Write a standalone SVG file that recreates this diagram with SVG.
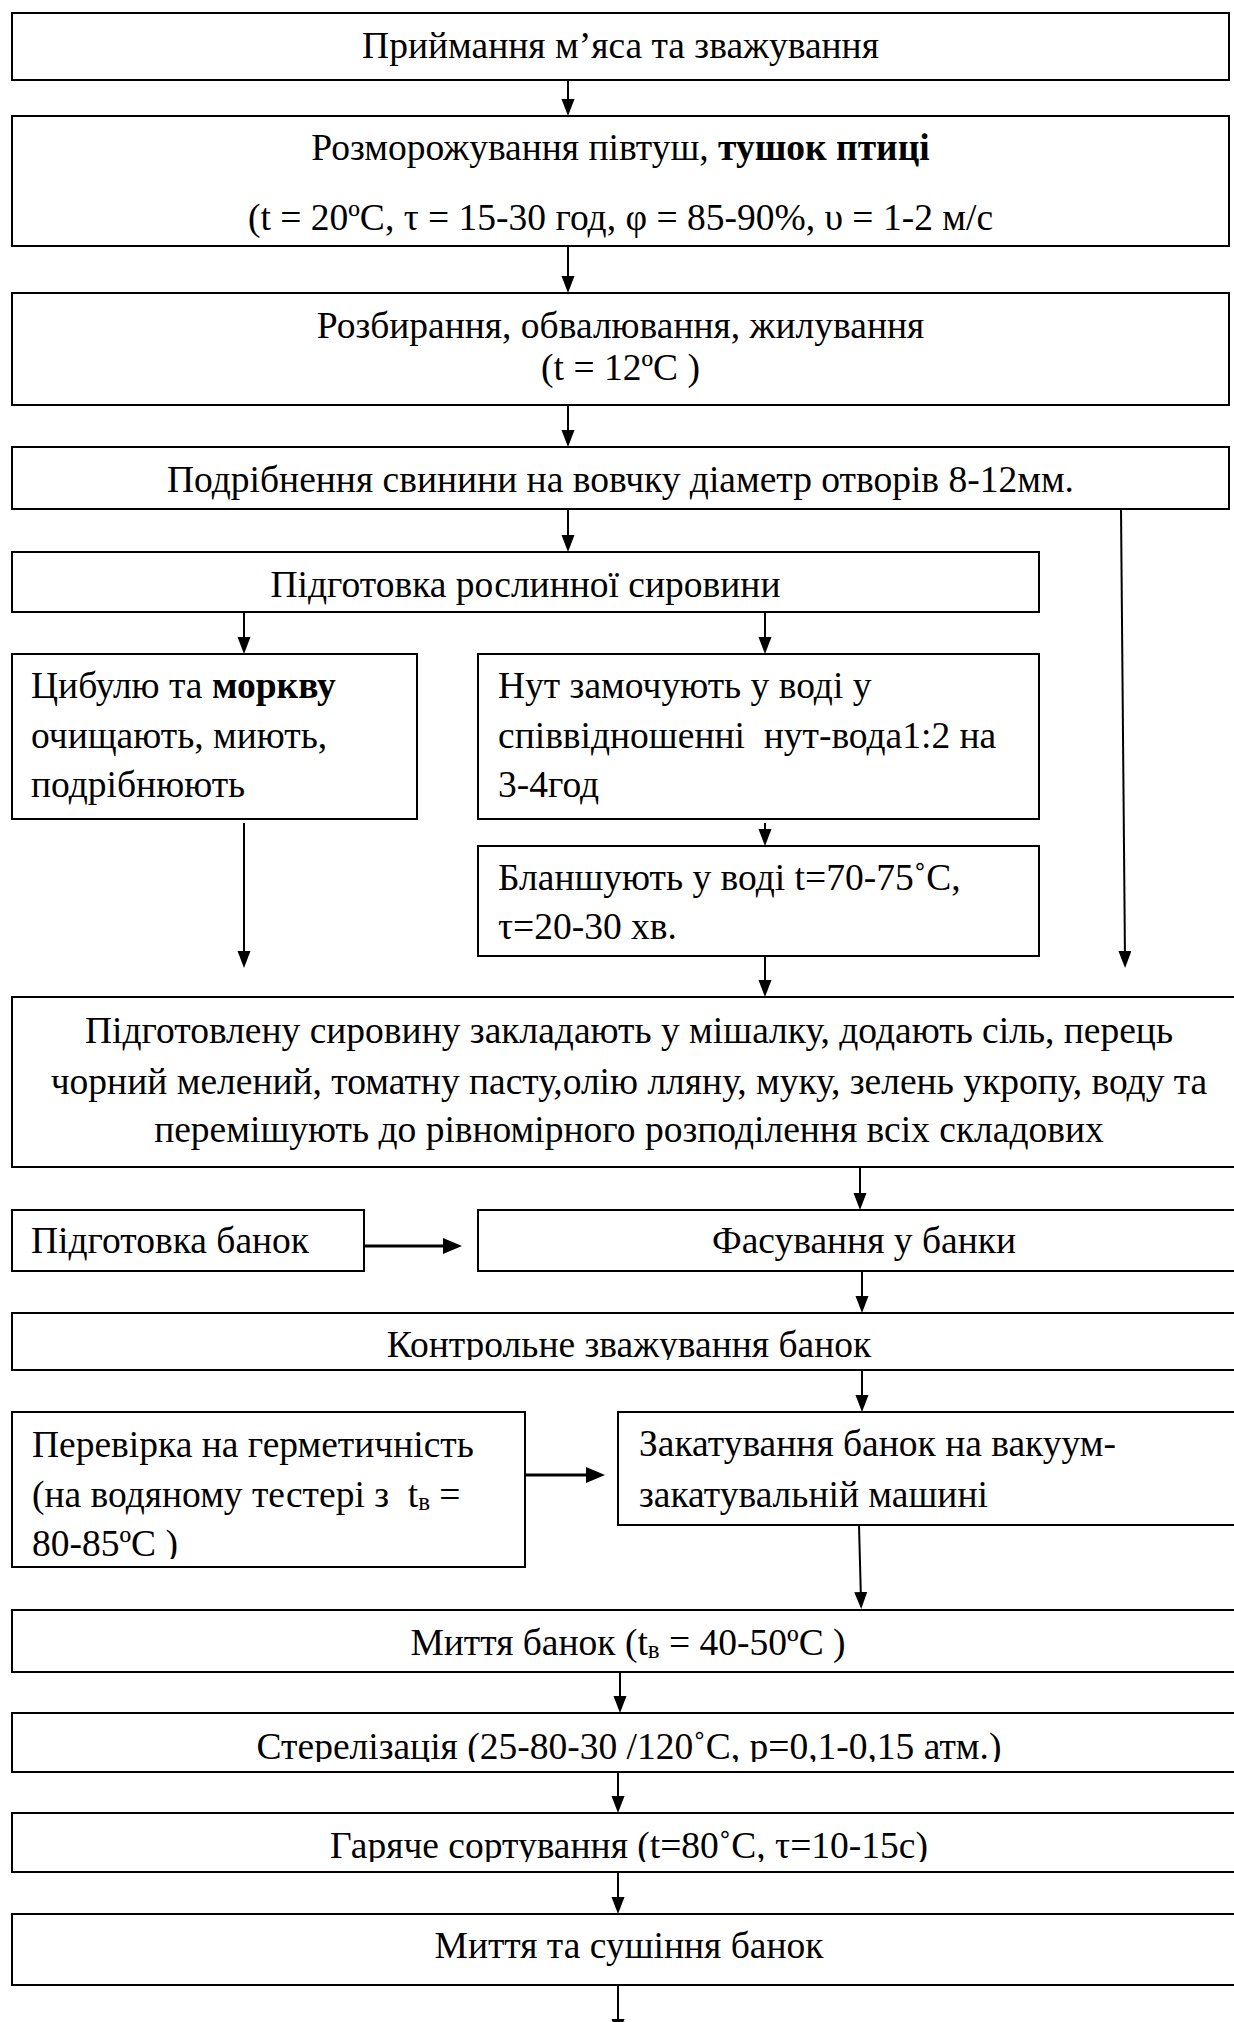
<svg xmlns="http://www.w3.org/2000/svg" width="1234" height="2022" viewBox="0 0 1234 2022">
<style>
.box{fill:#fff;stroke:#000;stroke-width:2}
.t{font-family:"Liberation Serif","Times New Roman",serif;font-size:37.5px;fill:#000}
.c{text-anchor:middle}
.b{font-weight:bold}
.con line{stroke:#000;stroke-width:2;marker-end:url(#ah)}
.con line.h{stroke-width:3;marker-end:url(#ahh)}
</style>
<defs>
<marker id="ah" markerUnits="userSpaceOnUse" markerWidth="18" markerHeight="14" refX="9" refY="6.5" orient="auto">
<path d="M0,0 L17,6.5 L0,13 Z" fill="#000"/>
</marker>
<marker id="ahh" markerUnits="userSpaceOnUse" markerWidth="20" markerHeight="17" refX="10" refY="8" orient="auto">
<path d="M0,0 L19,8 L0,16 Z" fill="#000"/>
</marker>
<clipPath id="clipK"><rect x="12" y="1313" width="1236" height="47"/></clipPath>
<clipPath id="clipP"><rect x="12" y="1412" width="513" height="147"/></clipPath>
<clipPath id="clipS"><rect x="12" y="1713" width="1236" height="49"/></clipPath>
<clipPath id="clipG"><rect x="12" y="1813" width="1236" height="49"/></clipPath>
</defs>
<rect width="1234" height="2022" fill="#fff"/>

<g id="n1"><rect class="box" x="12" y="13" width="1217" height="67"/>
<text class="t c" x="620.5" y="58">Приймання м’яса та зважування</text></g>

<g id="n2"><rect class="box" x="12" y="116" width="1217" height="130"/>
<text class="t c" x="620.5" y="160">Розморожування півтуш, <tspan class="b">тушок птиці</tspan></text>
<text class="t c" x="620.5" y="230">(t = 20ºС, τ = 15-30 год, φ = 85-90%, υ = 1-2 м/с</text></g>

<g id="n3"><rect class="box" x="12" y="293" width="1217" height="112"/>
<text class="t c" x="620.5" y="338">Розбирання, обвалювання, жилування</text>
<text class="t c" x="620.5" y="380">(t = 12ºС )</text></g>

<g id="n4"><rect class="box" x="12" y="447" width="1217" height="62"/>
<text class="t c" x="620.5" y="492">Подрібнення свинини на вовчку діаметр отворів 8-12мм.</text></g>

<g id="n5"><rect class="box" x="12" y="552" width="1027" height="60"/>
<text class="t c" x="525.5" y="597">Підготовка рослинної сировини</text></g>

<g id="n6"><rect class="box" x="12" y="654" width="405" height="165"/>
<text class="t" x="31" y="698">Цибулю та <tspan class="b">моркву</tspan></text>
<text class="t" x="31" y="748">очищають, миють,</text>
<text class="t" x="31" y="797">подрібнюють</text></g>

<g id="n7"><rect class="box" x="478" y="654" width="561" height="165"/>
<text class="t" x="498" y="698">Нут замочують у воді у</text>
<text class="t" x="498" y="748" xml:space="preserve">співвідношенні  нут-вода1:2 на</text>
<text class="t" x="498" y="797">3-4год</text></g>

<g id="n8"><rect class="box" x="478" y="846" width="561" height="110"/>
<text class="t" x="498" y="890">Бланшують у воді t=70-75˚С,</text>
<text class="t" x="498" y="939">τ=20-30 хв.</text></g>

<g id="n9"><rect class="box" x="12" y="997" width="1236" height="170"/>
<text class="t c" x="629" y="1043">Підготовлену сировину закладають у мішалку, додають сіль, перець</text>
<text class="t c" x="629" y="1094">чорний мелений, томатну пасту,олію лляну, муку, зелень укропу, воду та</text>
<text class="t c" x="629" y="1142">перемішують до рівномірного розподілення всіх складових</text></g>

<g id="n10"><rect class="box" x="12" y="1210" width="352" height="61"/>
<text class="t" x="31" y="1253">Підготовка банок</text></g>

<g id="n11"><rect class="box" x="478" y="1210" width="770" height="61"/>
<text class="t c" x="864" y="1253">Фасування у банки</text></g>

<g id="n12"><rect class="box" x="12" y="1313" width="1236" height="57"/>
<text class="t c" x="629" y="1357" clip-path="url(#clipK)">Контрольне зважування банок</text></g>

<g id="n13"><rect class="box" x="12" y="1412" width="513" height="155"/>
<g clip-path="url(#clipP)">
<text class="t" x="32" y="1457">Перевірка на герметичність</text>
<text class="t" x="32" y="1507" xml:space="preserve">(на водяному тестері з  t<tspan font-size="25" dy="3">в</tspan><tspan dy="-3"> =</tspan></text>
<text class="t" x="32" y="1556">80-85ºС )</text>
</g></g>

<g id="n14"><rect class="box" x="618" y="1412" width="630" height="113"/>
<text class="t" x="639" y="1456">Закатування банок на вакуум-</text>
<text class="t" x="639" y="1507">закатувальній машині</text></g>

<g id="n15"><rect class="box" x="12" y="1610" width="1236" height="62"/>
<text class="t c" x="628" y="1655">Миття банок (t<tspan font-size="25" dy="3">в</tspan><tspan dy="-3"> = 40-50ºС )</tspan></text></g>

<g id="n16"><rect class="box" x="12" y="1713" width="1236" height="59"/>
<text class="t c" x="629" y="1759" clip-path="url(#clipS)">Стерелізація (25-80-30 /120˚С, р=0,1-0,15 атм.)</text></g>

<g id="n17"><rect class="box" x="12" y="1813" width="1236" height="59"/>
<text class="t c" x="629" y="1858" clip-path="url(#clipG)">Гаряче сортування (t=80˚С, τ=10-15с)</text></g>

<g id="n18"><rect class="box" x="12" y="1914" width="1236" height="71"/>
<text class="t c" x="629" y="1958">Миття та сушіння банок</text></g>

<g id="connectors" class="con">
<line x1="568" y1="80" x2="568" y2="108"/>
<line x1="568" y1="246" x2="568" y2="285"/>
<line x1="568" y1="405" x2="568" y2="439"/>
<line x1="568" y1="509" x2="568" y2="544"/>
<line x1="244" y1="612" x2="244" y2="646"/>
<line x1="765" y1="612" x2="765" y2="646"/>
<line x1="765" y1="823" x2="765" y2="838"/>
<line x1="244" y1="823" x2="244" y2="960"/>
<line x1="1121" y1="509" x2="1125" y2="960"/>
<line x1="765" y1="956" x2="765" y2="989"/>
<line x1="860" y1="1167" x2="860" y2="1202"/>
<line class="h" x1="364" y1="1246" x2="453" y2="1246"/>
<line x1="862" y1="1271" x2="862" y2="1305"/>
<line x1="862" y1="1370" x2="862" y2="1404"/>
<line class="h" x1="525" y1="1475" x2="596" y2="1475"/>
<line x1="859" y1="1525" x2="861" y2="1601"/>
<line x1="620" y1="1672" x2="620" y2="1705"/>
<line x1="618" y1="1772" x2="618" y2="1805"/>
<line x1="618" y1="1872" x2="618" y2="1906"/>
<line x1="618" y1="1985" x2="618" y2="2028"/>
</g>
</svg>
